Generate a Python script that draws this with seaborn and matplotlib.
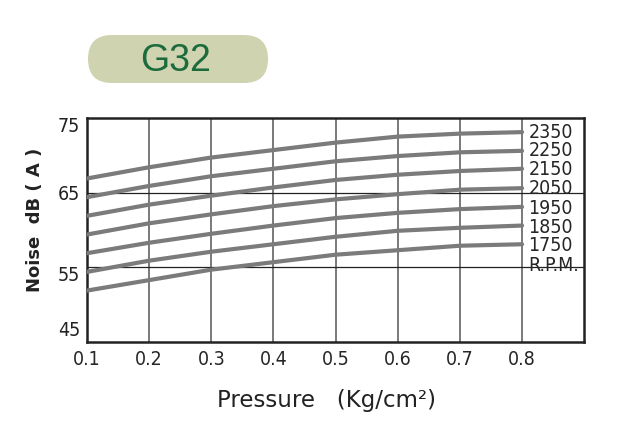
import numpy as np
import pandas as pd
import matplotlib.pyplot as plt
from matplotlib.patches import FancyBboxPatch
import seaborn as sns

sns.set_style('white')
plt.rcParams['font.family'] = ['DejaVu Sans']
plt.rcParams['font.stretch'] = 'condensed'

pressure = [0.1, 0.2, 0.3, 0.4, 0.5, 0.6, 0.7, 0.8]
rpm = ['2350', '2250', '2150', '2050', '1950', '1850', '1750']
noise = {
    '2350': [66.9, 68.4, 69.7, 70.7, 71.7, 72.5, 72.9, 73.1],
    '2250': [64.4, 65.9, 67.2, 68.2, 69.2, 69.9, 70.4, 70.6],
    '2150': [61.9, 63.4, 64.6, 65.7, 66.7, 67.4, 67.9, 68.2],
    '2050': [59.4, 60.9, 62.1, 63.2, 64.1, 64.8, 65.4, 65.6],
    '1950': [56.9, 58.3, 59.5, 60.6, 61.6, 62.3, 62.8, 63.1],
    '1850': [54.4, 55.9, 57.1, 58.1, 59.1, 59.9, 60.3, 60.6],
    '1750': [51.9, 53.3, 54.7, 55.7, 56.7, 57.3, 57.9, 58.1],
}
label_y = [73.1, 70.6, 68.1, 65.6, 62.9, 60.4, 57.9]
y_ticks = [45, 55, 65, 75]
x_ticks = [0.1, 0.2, 0.3, 0.4, 0.5, 0.6, 0.7, 0.8]

rows = []
for r in rpm:
    for p, n in zip(pressure, noise[r]):
        rows.append({'pressure': p, 'noise': n, 'rpm': r})
df = pd.DataFrame(rows)

fig = plt.figure(figsize=(6.35, 4.32), dpi=100)
ax = fig.add_axes([0.137, 0.208, 0.783, 0.519])

# grid
for x in x_ticks:
    ax.axvline(x, color='#6e6e6e', lw=1.3, zorder=1)
for y in [55, 65]:
    ax.axhline(y, color='#222222', lw=0.9, zorder=1)

sns.lineplot(data=df, x='pressure', y='noise', units='rpm', estimator=None,
             color='#7b7b7b', lw=3, ax=ax, zorder=3, legend=False)
ax.set_xlabel('')
ax.set_ylabel('')

ax.set_xlim(0.1, 0.9)
ax.set_ylim(45, 75)
ax.set_xticks(x_ticks)
ax.set_xticklabels([f'{x:.1f}' for x in x_ticks], fontsize=14)
ax.set_yticks(y_ticks)
ax.set_yticklabels([])
ax.tick_params(axis='x', length=0, pad=6)
ax.tick_params(axis='y', length=0)
# y labels sit slightly inside the axis range as in the original
y_offsets = [8.6, -5.8, -1.4, -6.1]
for y, dy in zip(y_ticks, y_offsets):
    ax.annotate(str(y), xy=(0, y), xycoords=('axes fraction', 'data'),
                xytext=(-5, dy), textcoords='offset points',
                ha='right', va='center', fontsize=14, color='#222222')
for s in ax.spines.values():
    s.set_color('#222222')
    s.set_linewidth(1.8)

for r, ly in zip(rpm, label_y):
    ax.text(0.81, ly, r, fontsize=14, va='center', ha='left')
ax.text(0.81, 55.3, 'R.P.M.', fontsize=14, va='center', ha='left')

fig.text(327 / 635, 1 - 400 / 432, 'Pressure   (Kg/cm²)', fontsize=16.5,
         stretch='normal', ha='center', va='center', color='#222222')
fig.text(35 / 635, 1 - 220 / 432, 'Noise  dB ( A )', fontsize=13, fontweight='bold',
         stretch='normal', rotation=90, ha='center', va='center', color='#222222')

# title badge, drawn in a pixel-based overlay axes
bx = fig.add_axes([0, 0, 1, 1], zorder=-1)
bx.set_xlim(0, 635)
bx.set_ylim(432, 0)
bx.axis('off')
bx.add_patch(FancyBboxPatch((88, 35), 180, 48,
                            boxstyle='round,pad=0,rounding_size=24',
                            fc='#cfd3b0', ec='none'))
bx.text(176, 61, 'G32', fontsize=27, color='#1b6b3c', ha='center', va='center',
        family=['Liberation Sans', 'DejaVu Sans'], stretch='normal')

fig.savefig('out.png', dpi=100)
